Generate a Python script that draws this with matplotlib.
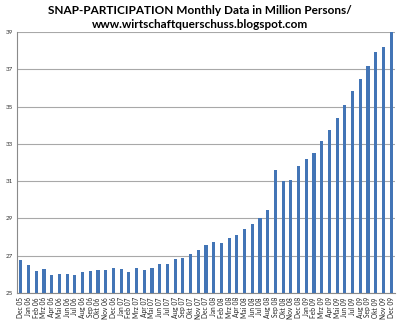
import matplotlib
matplotlib.use("Agg")
import matplotlib.pyplot as plt
import numpy as np

months = ["Dec 05", "Jan 06", "Feb 06", "Mrz 06", "Apr 06", "Mai 06", "Jun 06", "Jul 06",
          "Aug 06", "Sep 06", "Okt 06", "Nov 06", "Dec 06", "Jan 07", "Feb 07", "Mrz 07",
          "Apr 07", "Mai 07", "Jun 07", "Jul 07", "Aug 07", "Sep 07", "Okt 07", "Nov 07",
          "Dec 07", "Jan 08", "Feb 08", "Mrz 08", "Apr 08", "Mai 08", "Jun 08", "Jul 08",
          "Aug 08", "Sep 08", "Okt 08", "Nov 08", "Dec 08", "Jan 09", "Feb 09", "Mrz 09",
          "Apr 09", "Mai 09", "Jun 09", "Jul 09", "Aug 09", "Sep 09", "Okt 09", "Nov 09",
          "Dec 09"]
participants = [26.79, 26.49, 26.18, 26.29, 25.97, 26.00, 26.04, 25.97,
                26.11, 26.16, 26.25, 26.25, 26.34, 26.31, 26.11, 26.34,
                26.25, 26.36, 26.58, 26.58, 26.84, 26.90, 27.11, 27.33,
                27.56, 27.73, 27.70, 27.93, 28.13, 28.42, 28.68, 29.04,
                29.43, 31.58, 31.03, 31.08, 31.79, 32.17, 32.53, 33.15,
                33.74, 34.40, 35.10, 35.83, 36.50, 37.17, 37.92, 38.20,
                38.99]
yticks = [25, 27, 29, 31, 33, 35, 37, 39]

plt.rcParams['font.family'] = ['Lato', 'DejaVu Sans']

fig = plt.figure(figsize=(4.0, 3.24), dpi=100)
ax = fig.add_axes([17/400, 1 - 293/324, 378/400, 261/324])

x = np.arange(len(months))
ax.bar(x, participants, width=0.4, color="#4375B6", zorder=3)

ax.set_ylim(25, 39)
ax.set_xlim(-0.5, len(months) - 0.5)
ax.set_yticks(yticks)
ax.set_yticklabels([str(t) for t in yticks], fontsize=4.5, color="#333333")
ax.set_xticks(x)
ax.set_xticklabels(months, rotation=90, fontsize=4.8, color="#222222")
ax.tick_params(axis="x", length=0, pad=3)
ax.tick_params(axis="y", length=0, pad=3)
ax.grid(axis="y", color="#a8a8a8", linewidth=0.8, zorder=0)

for s in ["top", "right"]:
    ax.spines[s].set_visible(False)
ax.spines["left"].set_color("#8a8a8a")
ax.spines["bottom"].set_color("#8a8a8a")

fig.text(0.5, 1 - 11/324, "SNAP-PARTICIPATION Monthly Data in Million Persons/",
         ha="center", va="center", fontsize=8.5, fontweight="bold")
fig.text(0.5, 1 - 24/324, "www.wirtschaftquerschuss.blogspot.com",
         ha="center", va="center", fontsize=8.5, fontweight="bold")

fig.savefig("out.png", dpi=100)
